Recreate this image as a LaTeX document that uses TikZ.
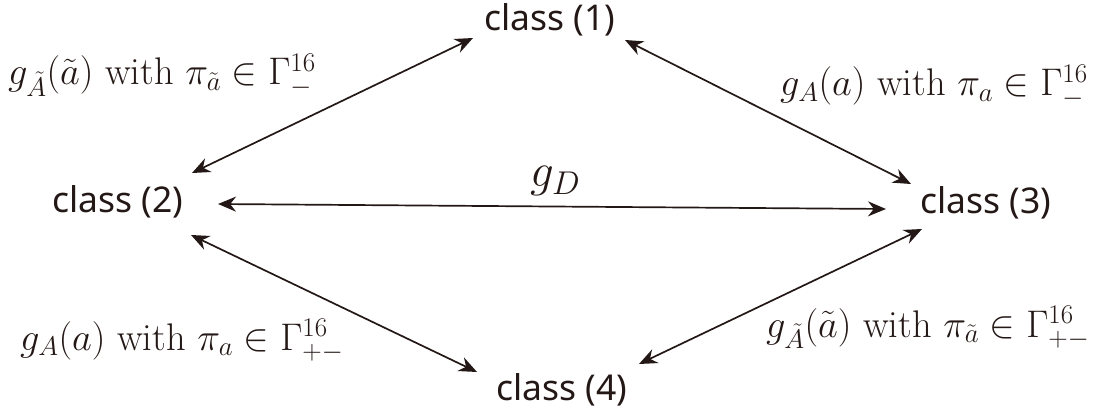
\RequirePackage{fix-cm}
\documentclass[tikz,border=0pt]{standalone}
\usepackage{fontspec}
\newfontfamily\clsfont{Noto Sans}
\usetikzlibrary{arrows.meta,positioning}
\definecolor{ink}{RGB}{35,24,21}

\begin{document}
\begin{tikzpicture}[x=1pt,y=-1pt,>={Stealth[length=18pt,width=15pt]},color=ink,
  cls/.style={inner sep=0pt,font=\clsfont\fontsize{35.5}{40}\selectfont},
  lbl/.style={inner sep=0pt,anchor=base west,font=\fontsize{38.5}{44}\selectfont},
  link/.style={<->,line width=1.7pt}]
\useasboundingbox (0,0) rectangle (1114,414);
\node[cls] (c1) at (550,20) {class (1)};
\node[cls] (c2) at (118,202) {class (2)};
\node[cls] (c3) at (986,203) {class (3)};
\node[cls] (c4) at (562,390) {class (4)};
% arrows between the classes
\draw[link] ([shift={(-77,18)}]c1.center) -- ([shift={(74,-29)}]c2.center);
\draw[link] ([shift={(75,20)}]c1.center) -- ([shift={(-75,-19)}]c3.center);
\draw[link] ([shift={(100,2)}]c2.center) -- ([shift={(-100,6)}]c3.center);
\draw[link] ([shift={(73,33)}]c2.center) -- ([shift={(-85,-18)}]c4.center);
\draw[link] ([shift={(-64,26)}]c3.center) -- ([shift={(77,-26)}]c4.center);
% labels
\node[lbl] (l12) at (8,85) {$g_{\tilde A}(\tilde a)$ with $\pi_{\tilde a}\in\Gamma^{16}_{-}$};
\node[lbl] (l13) at (780,96) {$g_{A}(a)$ with $\pi_{a}\in\Gamma^{16}_{-}$};
\node[lbl,font=\fontsize{47}{52}\selectfont] (l23) at (530,187) {$g_D$};
\node[lbl] (l24) at (20,350) {$g_{A}(a)$ with $\pi_{a}\in\Gamma^{16}_{+-}$};
\node[lbl] (l34) at (766,337) {$g_{\tilde A}(\tilde a)$ with $\pi_{\tilde a}\in\Gamma^{16}_{+-}$};
\end{tikzpicture}
\end{document}
